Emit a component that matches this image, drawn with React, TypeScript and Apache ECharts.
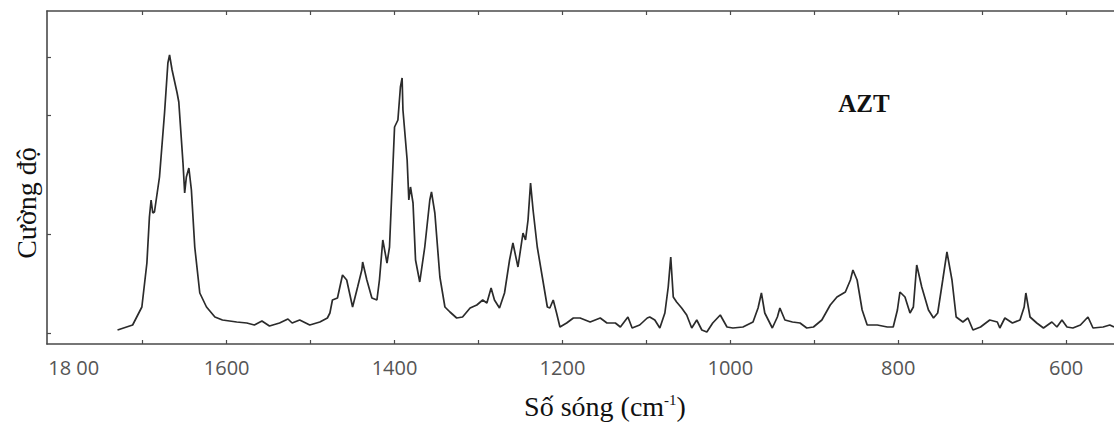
import React, { useEffect, useRef } from "react";
import * as echarts from "echarts";

// Raman spectrum of AZT, wavenumber (cm-1) vs. intensity (arbitrary units)

// 1730–1480 cm-1: carbonyl band and flat baseline
const highWavenumbers = [
  1730, 1712, 1701, 1695, 1692, 1690, 1688, 1686, 1680, 1674, 1670, 1668, 1665, 1659, 1657,
  1652, 1650, 1648, 1645, 1642, 1638, 1632, 1624, 1614, 1605, 1588, 1576, 1567, 1558, 1549,
  1537, 1527, 1522, 1513, 1501, 1489, 1480,
];
const highIntensity = [
  14, 19, 37, 81, 127, 144, 131, 132, 167, 231, 281, 289, 274, 251, 242,
  181, 151, 167, 176, 154, 97, 51, 37, 27, 24, 22, 21, 19, 23, 18,
  21, 25, 21, 24, 19, 22, 26,
];

// 1477–1167 cm-1: ring / CH bending region
const midWavenumbers = [
  1477, 1474, 1468, 1462, 1457, 1450, 1444, 1439, 1438, 1433, 1427, 1421, 1418, 1414, 1409,
  1406, 1400, 1396, 1393, 1391, 1390, 1385, 1383, 1381, 1378, 1375, 1370, 1364, 1358, 1356,
  1352, 1346, 1340, 1334, 1326, 1319, 1310, 1302, 1295, 1290, 1285, 1281, 1275, 1269, 1263,
  1259, 1253, 1247, 1244, 1241, 1238, 1235, 1230, 1224, 1218, 1215, 1211, 1207, 1203, 1195,
  1187, 1179, 1167,
];
const midIntensity = [
  31, 44, 46, 69, 64, 37, 57, 74, 82, 64, 46, 44, 64, 104, 81,
  97, 217, 224, 257, 266, 234, 184, 144, 157, 141, 84, 62, 97, 144, 152,
  131, 67, 37, 32, 26, 27, 36, 39, 44, 41, 56, 44, 36, 51, 84,
  101, 77, 111, 104, 124, 161, 134, 97, 67, 37, 36, 44, 31, 17, 21,
  26, 26, 22,
];

// 1155–543 cm-1: fingerprint region
const lowWavenumbers = [
  1155, 1147, 1137, 1131, 1122, 1117, 1108, 1099, 1096, 1090, 1084, 1078, 1074, 1071, 1068,
  1064, 1058, 1052, 1046, 1040, 1034, 1028, 1021, 1012, 1004, 997, 985, 973, 967, 963,
  959, 950, 944, 941, 935, 926, 917, 909, 901, 891, 881, 873, 863, 857, 854,
  849, 843, 837, 825, 813, 806, 801, 798, 792, 786, 782, 778, 772, 764, 758,
  753, 747, 742, 736, 731, 723, 717, 711, 702, 691, 682, 679, 673, 664, 655,
  650, 648, 643, 635, 627, 617, 611, 605, 599, 592, 583, 574, 568, 556, 548,
  543,
];
const lowIntensity = [
  26, 21, 21, 17, 27, 16, 19, 26, 27, 24, 16, 31, 57, 87, 47,
  42, 36, 29, 16, 24, 14, 12, 21, 29, 17, 16, 17, 22, 36, 51,
  31, 16, 27, 36, 24, 22, 21, 16, 17, 24, 39, 47, 52, 64, 74,
  64, 34, 19, 19, 17, 17, 34, 52, 47, 31, 37, 79, 57, 34, 26,
  31, 64, 92, 64, 27, 22, 26, 14, 17, 24, 22, 16, 26, 21, 24,
  37, 51, 27, 21, 16, 22, 17, 24, 17, 16, 19, 27, 16, 17, 19,
  17,
];

const xTickValues = [1700, 1600, 1500, 1400, 1300, 1200, 1100, 1000, 900, 800, 700, 600];
const xLabelValues = [1800, 1600, 1400, 1200, 1000, 800, 600];
const yTickValues = [11, 110, 229, 287];

const X_MIN = 543;
const X_MAX = 1814;
const Y_MAX = 333;

const sampleName = "AZT";
const xTitle = "Số sóng (cm";
const yTitle = "Cường độ";

function pairs(xs: number[], ys: number[]): number[][] {
  return xs.map((x, i) => [x, ys[i]]);
}

export default function App() {
  const ref = useRef<HTMLDivElement>(null);

  useEffect(() => {
    if (!ref.current) return;
    const chart = echarts.init(ref.current, undefined, { renderer: "svg" });

    const spectrum = [
      ...pairs(highWavenumbers, highIntensity),
      ...pairs(midWavenumbers, midIntensity),
      ...pairs(lowWavenumbers, lowIntensity),
    ];

    const axisColor = "#4a4a4a";
    const serif = "'Liberation Serif', 'Times New Roman', serif";

    chart.setOption({
      animation: false,
      backgroundColor: "#ffffff",
      grid: { left: 47, right: 0, top: 11, bottom: 78, containLabel: false },
      xAxis: [
        {
          type: "value",
          position: "bottom",
          min: X_MIN,
          max: X_MAX,
          inverse: true,
          axisLine: { show: true, lineStyle: { color: axisColor, width: 1.6 } },
          axisTick: {
            show: true,
            inside: true,
            length: 4,
            customValues: xTickValues,
            lineStyle: { color: axisColor, width: 1.2 },
          },
          axisLabel: {
            show: true,
            customValues: xLabelValues,
            margin: 13,
            color: "#555555",
            fontFamily: "'Open Sans', sans-serif",
            fontSize: 20,
            formatter: (v: number) => (v === 1800 ? "{first|18 00}" : String(v)),
            rich: {
              first: {
                fontFamily: "'Open Sans', sans-serif",
                fontSize: 20,
                color: "#555555",
                padding: [0, 0, 0, 30],
              },
            },
          },
          splitLine: { show: false },
        },
        {
          type: "value",
          position: "top",
          min: X_MIN,
          max: X_MAX,
          inverse: true,
          axisLine: { show: true, lineStyle: { color: axisColor, width: 1.6 } },
          axisTick: {
            show: true,
            inside: true,
            length: 4,
            customValues: xTickValues,
            lineStyle: { color: axisColor, width: 1.2 },
          },
          axisLabel: { show: false },
          splitLine: { show: false },
        },
      ],
      yAxis: {
        type: "value",
        min: 0,
        max: Y_MAX,
        axisLine: { show: true, lineStyle: { color: axisColor, width: 1.6 } },
        axisTick: {
          show: true,
          inside: true,
          length: 4,
          customValues: yTickValues,
          lineStyle: { color: axisColor, width: 1.2 },
        },
        axisLabel: { show: false },
        splitLine: { show: false },
      },
      series: [
        {
          type: "line",
          xAxisIndex: 0,
          yAxisIndex: 0,
          data: spectrum,
          showSymbol: false,
          symbol: "none",
          lineStyle: { color: "#2b2b2b", width: 1.7 },
          z: 3,
        },
      ],
      graphic: [
        {
          type: "text",
          x: 864,
          y: 103,
          style: {
            text: sampleName,
            font: `bold 25px ${serif}`,
            fill: "#111111",
            align: "center",
            verticalAlign: "middle",
          },
        },
        {
          type: "text",
          x: 605,
          y: 406,
          style: {
            text: `{t|${xTitle}}{s|-1}{t|)}`,
            align: "center",
            verticalAlign: "middle",
            rich: {
              t: { fontFamily: serif, fontSize: 28, fill: "#111111" },
              s: { fontFamily: serif, fontSize: 15, fill: "#111111", verticalAlign: "top" },
            },
          },
        },
        {
          type: "text",
          x: 26,
          y: 203,
          rotation: Math.PI / 2,
          style: {
            text: yTitle,
            fontFamily: serif,
            fontSize: 28,
            fill: "#111111",
            align: "center",
            verticalAlign: "middle",
          },
        },
      ],
    });

    return () => chart.dispose();
  }, []);

  return (
    <div
      ref={ref}
      style={{ position: "fixed", left: 0, top: 0, width: 1114, height: 422, background: "#fff" }}
    />
  );
}
